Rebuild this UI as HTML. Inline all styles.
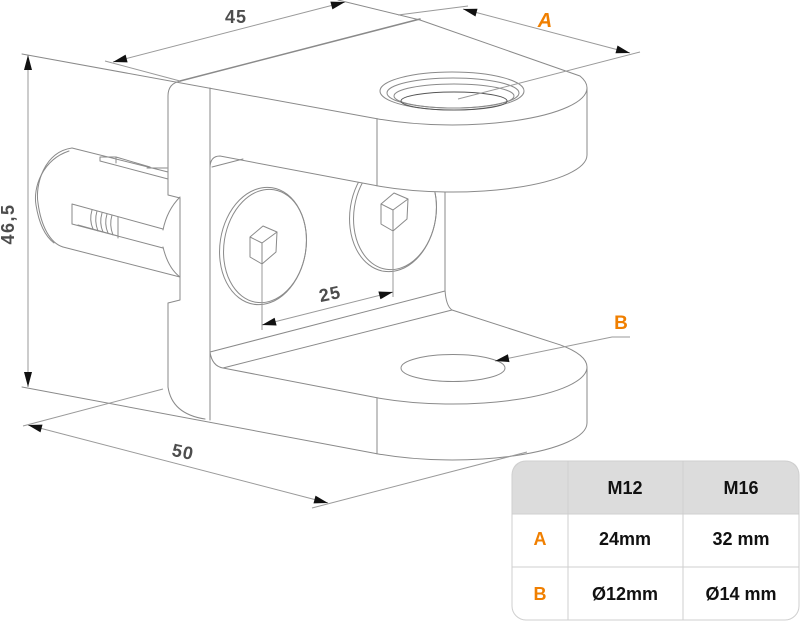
<!DOCTYPE html>
<html><head><meta charset="utf-8">
<style>
html,body{margin:0;padding:0;background:#fff;}
svg{display:block;}
.dim{font-family:"Liberation Sans",sans-serif;font-weight:bold;fill:#4d4d4d;}
.org{font-family:"Liberation Sans",sans-serif;font-weight:bold;fill:#f07f00;}
.tb{font-family:"Liberation Sans",sans-serif;font-weight:bold;fill:#111;font-size:18px;}
</style></head><body>
<svg width="800" height="621" viewBox="0 0 800 621" xmlns="http://www.w3.org/2000/svg">
<rect width="800" height="621" fill="#fff"/>

<!-- anchor (behind plate) -->
<g fill="none" stroke="#8a8a8a" stroke-width="1" stroke-linejoin="round" stroke-linecap="round">
  <path d="M72,148 L168,172"/>
  <path d="M63,247 L180,277"/>
  <path d="M72,148 C44,152 35,185 38,203 C41,226 50,243 63,247"/>
  <path d="M69,151 C42,160 33,188 36,205 C39,224 45,236 54,243"/>
  <path d="M100,157 L116,157 L150,167 M100,157 L100,161 L168,179 M116,157 L116,163 M147,168 L167,168"/>
  <path d="M72,204 L72,224 L163,248 M72,204 L163,229 M78,225 L118,236"/>
  <path d="M92,210 Q89,220 93,229 M97,211 Q94,221 98,231 M102,213 Q99,223 103,232 M107,214 Q104,224 108,233 M112,215 Q109,225 113,235 M118,217 L118,238"/>
  <path d="M180,197 Q167,210 163,230 M163,247 Q168,268 180,277"/>
</g>

<!-- bolts -->
<g fill="none" stroke="#8a8a8a" stroke-width="1" stroke-linejoin="round">
  <ellipse cx="263" cy="246" rx="43" ry="59" transform="rotate(9 263 246)"/>
  <ellipse cx="265" cy="246" rx="41" ry="57" transform="rotate(9 265 246)"/>
  <polygon points="263,226 277,232 276,252 262,264 250,257 250,237"/>
  <path d="M250,237 L262,243 L277,232 M262,243 L262,264"/>
  <path d="M262,264 L262,330" stroke="#999"/>
  <ellipse cx="393" cy="213" rx="43" ry="59" transform="rotate(9 393 213)"/>
  <ellipse cx="395" cy="213" rx="41" ry="57" transform="rotate(9 395 213)"/>
  <polygon points="394,193 408,199 407,219 393,231 381,224 381,204"/>
  <path d="M381,204 L393,210 L408,199 M393,210 L393,231"/>
  <path d="M393,231 L393,297" stroke="#999"/>
</g>

<!-- upper arm overlays (occlude right bolt) -->
<g fill="#fff" stroke="none">
  <polygon points="210,88 377,119 377,186 220,156 210,168"/>
  <path d="M377,118.7 A135 37 0 0 0 587,88 L587,155 A135 37 0 0 1 377,185.8 Z"/>
</g>

<!-- part outlines -->
<g fill="none" stroke="#8a8a8a" stroke-width="1" stroke-linejoin="round" stroke-linecap="round">
  <path d="M181,81 Q168,83 168,96 L168,195 L180,198 L180,300 L168,303 L168,387 Q172,414 205,419"/>
  <path d="M210,88 L210,420"/>
  <path d="M22,54 L377,118.7"/>
  <path d="M210,168 Q210,156 220,156 L377,185.8"/>
  <path d="M212,167 L243,159"/>
  <path d="M377,118.7 L377,185.8"/>
  <path d="M377,118.7 A135 37 0 0 0 587,88 L587,155 A135 37 0 0 1 377,185.8"/>
  <path d="M180,81 L420,19" stroke-width="1.5"/>
  <path d="M338,0 L420,20 L580,76 A135 37 0 0 1 587,88"/>
  <ellipse cx="452" cy="91" rx="72" ry="19"/>
  <ellipse cx="453" cy="93" rx="66" ry="15"/>
  <ellipse cx="454" cy="96" rx="60" ry="12"/>
  <ellipse cx="454" cy="101" rx="53" ry="9" stroke="#555"/>
  <path d="M445,192 L445,290 Q446,306 452,310"/>
  <path d="M210,352 L445,291"/>
  <path d="M210,352 Q212,366 223,368 L377,397.8 A135 37 0 0 0 587,367 L587,423 A135 37 0 0 1 377,453.7"/>
  <path d="M223,368 L452,310 L560,344.8 A135 37 0 0 1 587,367"/>
  <path d="M377,397.8 L377,453.7"/>
  <path d="M22,387 L377,453.7"/>
  <ellipse cx="453" cy="368" rx="52" ry="13.5"/>
</g>

<!-- dimension lines -->
<g fill="none" stroke="#9a9a9a" stroke-width="1">
  <path d="M113,62 L345,2"/>
  <path d="M105,61 L180,81"/>
  <path d="M463,9 L630,53"/>
  <path d="M398,15 L468,6"/>
  <path d="M640,52 L458,99"/>
  <path d="M28,55 L28,387"/>
  <path d="M28,425 L328,503"/>
  <path d="M23,426 L163,389"/>
  <path d="M312,508 L527,452"/>
  <path d="M262,325 L393,292"/>
  <path d="M630,337 L612,337 L495,361"/>
</g>

<!-- arrowheads -->
<g fill="#111" stroke="none">
  <polygon points="113,62 127.6,62.4 125.6,54.6"/>
  <polygon points="345,2 332.4,9.4 330.4,1.6"/>
  <polygon points="463,9 475.5,16.5 477.5,8.7"/>
  <polygon points="630,53 615.5,53.3 617.5,45.5"/>
  <polygon points="28,55 24,70 32,70"/>
  <polygon points="28,387 24,372 32,372"/>
  <polygon points="28,425 40.5,432.4 42.5,424.6"/>
  <polygon points="328,503 313.5,503.4 315.5,495.6"/>
  <polygon points="262,325 276.6,325.5 274.6,317.7"/>
  <polygon points="393,292 380.4,299.3 378.4,291.5"/>
  <polygon points="495,361 509.5,362.1 507.9,354.3"/>
</g>

<!-- dimension labels -->
<text class="dim" x="236" y="23" font-size="18" text-anchor="middle" letter-spacing="1">45</text>
<text class="org" x="545" y="27" font-size="20" font-style="italic" text-anchor="middle">A</text>
<text class="dim" font-size="18" text-anchor="middle" letter-spacing="1.5" transform="translate(14,224) rotate(-90)">46,5</text>
<text class="dim" font-size="18" text-anchor="middle" letter-spacing="1" transform="translate(183,452) rotate(12)" y="6">50</text>
<text class="dim" font-size="18" text-anchor="middle" letter-spacing="1" transform="translate(330,294) rotate(-12)" y="6">25</text>
<text class="org" x="621" y="329" font-size="19" text-anchor="middle">B</text>

<!-- table -->
<path d="M512,514 L512,475 Q512,461 526,461 L785,461 Q799,461 799,475 L799,514 Z" fill="#dcdcdc"/>
<rect x="512" y="461" width="287" height="159" rx="14" ry="14" fill="none" stroke="#cfcfcf" stroke-width="1"/>
<g stroke="#cfcfcf" stroke-width="1">
  <line x1="512" y1="514" x2="799" y2="514"/>
  <line x1="512" y1="567" x2="799" y2="567"/>
  <line x1="568" y1="461" x2="568" y2="620"/>
  <line x1="683" y1="461" x2="683" y2="620"/>
</g>
<text class="tb" x="625" y="494" text-anchor="middle">M12</text>
<text class="tb" x="741" y="494" text-anchor="middle">M16</text>
<text class="org" x="540" y="545" font-size="18" text-anchor="middle">A</text>
<text class="tb" x="625" y="545" text-anchor="middle">24mm</text>
<text class="tb" x="741" y="545" text-anchor="middle">32 mm</text>
<text class="org" x="540" y="600" font-size="18" text-anchor="middle">B</text>
<text class="tb" x="625" y="600" text-anchor="middle">Ø12mm</text>
<text class="tb" x="741" y="600" text-anchor="middle">Ø14 mm</text>
</svg>
</body></html>
